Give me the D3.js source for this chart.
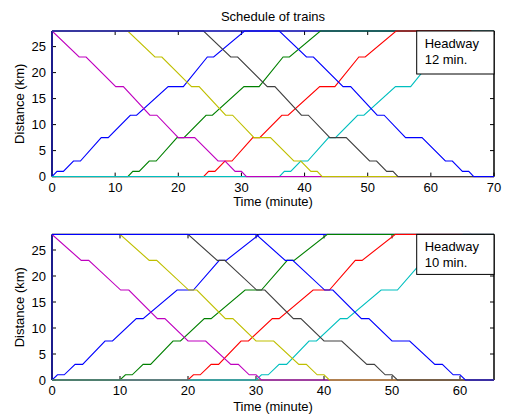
<!DOCTYPE html>
<html>
<head>
<meta charset="utf-8">
<script src="https://cdn.jsdelivr.net/npm/d3@7"></script>
<style>
    body { margin: 0; background: white; }
    text { font-family: "Liberation Sans", Arial, sans-serif; fill: #000; }
</style>
</head>
<body>
<div id="chart"></div>
<script>
// one trip of an up train (0 km -> 28 km), minutes after departure
let upTimes = [0, 0.8, 1.8, 3.4, 4.5, 7.8, 8.9, 12.4, 13.4, 18.4, 20.8, 24.6, 25.6, 30.5];
let upDist  = [0, 1, 1, 3, 3, 7.5, 7.5, 11.8, 11.8, 17.3, 17.3, 23, 23, 28];

// one trip of a down train (28 km -> 0 km)
let downTimes = [0, 4.3, 5.4, 10.1, 11.3, 15.5, 16.6, 20.0, 22.6, 26.3, 27.4, 29.0, 30.0, 30.8];
let downDist  = [28, 23, 23, 17.3, 17.3, 11.8, 11.8, 7.5, 7.5, 3, 3, 1, 1, 0];

// departure times of each panel
let headways = [12, 10];
let upDepartures   = [[0, 12, 24, 36], [0, 10, 20, 30]];
let downDepartures = [[0, 12, 24, 36], [0, 10, 20, 30]];
let xMax = [70, 65];

let xTicks = [[0, 10, 20, 30, 40, 50, 60, 70], [0, 10, 20, 30, 40, 50, 60]];
let yTicks = [0, 5, 10, 15, 20, 25];

// matlab colour order: up trains first, then down trains
let upColors   = ["#0000ff", "#008000", "#ff0000", "#00bfbf"];
let downColors = ["#bf00bf", "#bfbf00", "#404040", "#0000ff"];

let width = 506, height = 417;
let left = 52, right = 494;
let panelTops = [31, 234.4];
let plotHeight = 145.6;
let xLabelY = [206, 411];

let svg = d3.select("#chart").append("svg")
    .attr("width", width)
    .attr("height", height);

svg.append("text")
    .attr("x", 273)
    .attr("y", 20.5)
    .attr("text-anchor", "middle")
    .style("font-size", "13px")
    .text("Schedule of trains");

function drawPanel(p) {
    let top = panelTops[p];
    let bottom = top + plotHeight;

    let x = d3.scaleLinear().domain([0, xMax[p]]).range([left, right]);
    let y = d3.scaleLinear().domain([0, 28]).range([bottom, top]);

    let g = svg.append("g");

    g.append("clipPath")
        .attr("id", "clip" + p)
        .append("rect")
        .attr("x", left).attr("y", top - 1)
        .attr("width", right - left).attr("height", plotHeight + 2);

    // tick labels
    g.selectAll(".xl")
        .data(xTicks[p])
        .enter().append("text")
        .attr("x", d => x(d))
        .attr("y", bottom + 15)
        .attr("text-anchor", "middle")
        .style("font-size", "13px")
        .text(d => d);

    g.selectAll(".yl")
        .data(yTicks)
        .enter().append("text")
        .attr("x", left - 6)
        .attr("y", d => y(d) + 4.5)
        .attr("text-anchor", "end")
        .style("font-size", "13px")
        .text(d => d);

    // inward ticks on all four sides
    let tickLen = 4;
    xTicks[p].forEach(function (t) {
        g.append("line").attr("x1", x(t)).attr("x2", x(t))
            .attr("y1", bottom).attr("y2", bottom - tickLen).attr("stroke", "#000");
        g.append("line").attr("x1", x(t)).attr("x2", x(t))
            .attr("y1", top).attr("y2", top + tickLen).attr("stroke", "#000");
    });
    yTicks.forEach(function (t) {
        g.append("line").attr("x1", left).attr("x2", left + tickLen)
            .attr("y1", y(t)).attr("y2", y(t)).attr("stroke", "#000");
        g.append("line").attr("x1", right).attr("x2", right - tickLen)
            .attr("y1", y(t)).attr("y2", y(t)).attr("stroke", "#000");
    });

    // box
    g.append("line").attr("x1", right).attr("x2", right)
        .attr("y1", top).attr("y2", bottom).attr("stroke", "#000").attr("stroke-width", 1.5);
    g.append("line").attr("x1", left).attr("x2", left)
        .attr("y1", top).attr("y2", bottom).attr("stroke", "#1c1c8c").attr("stroke-width", 2);
    g.append("line").attr("x1", left).attr("x2", right)
        .attr("y1", top).attr("y2", top).attr("stroke", "#000");
    g.append("line").attr("x1", left).attr("x2", right)
        .attr("y1", bottom).attr("y2", bottom).attr("stroke", "#000");

    // build the train paths: wait at origin, run, stay at destination
    let trains = [];
    upDepartures[p].forEach(function (dep, i) {
        let pts = [[0, 0]];
        upTimes.forEach((t, k) => pts.push([dep + t, upDist[k]]));
        pts.push([xMax[p], 28]);
        trains.push({ pts: pts, color: upColors[i] });
    });
    downDepartures[p].forEach(function (dep, i) {
        let pts = [[0, 28]];
        downTimes.forEach((t, k) => pts.push([dep + t, downDist[k]]));
        pts.push([xMax[p], 0]);
        trains.push({ pts: pts, color: downColors[i] });
    });

    let line = d3.line()
        .x(d => x(d[0]))
        .y(d => y(d[1]));

    g.append("g")
        .attr("clip-path", "url(#clip" + p + ")")
        .selectAll("path")
        .data(trains)
        .enter().append("path")
        .attr("d", d => line(d.pts))
        .attr("fill", "none")
        .attr("stroke", d => d.color)
        .attr("stroke-width", 1.1);

    // headway box
    let boxX = 416.7, boxW = right - boxX, boxH = p == 0 ? 43 : 40;
    g.append("rect")
        .attr("x", boxX).attr("y", top)
        .attr("width", boxW).attr("height", boxH)
        .attr("fill", "white").attr("stroke", "#000");
    g.append("text")
        .attr("x", boxX + 8).attr("y", top + 17)
        .style("font-size", "13px")
        .text("Headway");
    g.append("text")
        .attr("x", boxX + 8).attr("y", top + 33)
        .style("font-size", "13px")
        .text(headways[p] + " min.");

    // axis labels
    g.append("text")
        .attr("x", 273)
        .attr("y", xLabelY[p])
        .attr("text-anchor", "middle")
        .style("font-size", "13px")
        .text("Time (minute)");

    g.append("text")
        .attr("transform", "translate(24," + (top + plotHeight / 2) + ") rotate(-90)")
        .attr("text-anchor", "middle")
        .style("font-size", "13px")
        .text("Distance (km)");
}

drawPanel(0);
drawPanel(1);
</script>
</body>
</html>
